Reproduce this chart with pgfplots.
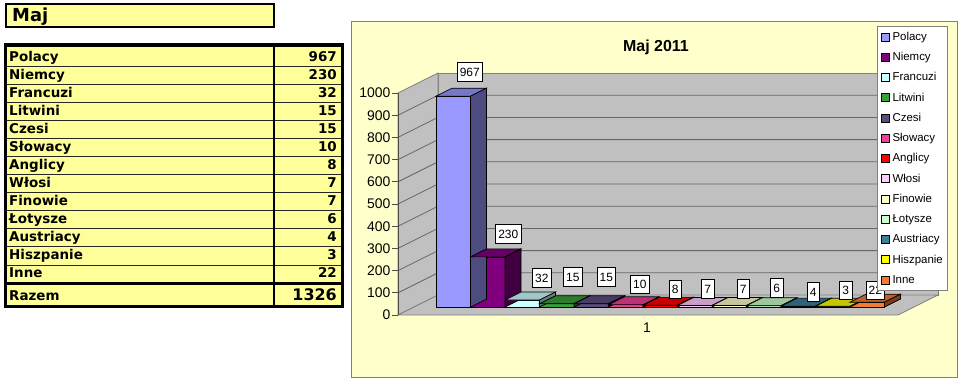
\documentclass[border=0pt]{standalone}
\usepackage{pgfplots}
\pgfplotsset{compat=1.18}
\usepackage{fontspec}
\setmainfont{Liberation Sans}
\newfontfamily\tabfont{DejaVu Sans}
\definecolor{chartbg}{HTML}{FFFFCC}
\definecolor{wall}{HTML}{C0C0C0}
\definecolor{gridc}{HTML}{808080}
\definecolor{tabyel}{HTML}{FFFF99}
\definecolor{cPol}{HTML}{9999FF}
\definecolor{cNie}{HTML}{800080}
\definecolor{cFra}{HTML}{CCFFFF}
\definecolor{cLit}{HTML}{3A9E3A}
\definecolor{cCze}{HTML}{5C4C80}
\definecolor{cSlo}{HTML}{F04196}
\definecolor{cAng}{HTML}{FF0000}
\definecolor{cWlo}{HTML}{FFCCFF}
\definecolor{cFin}{HTML}{FFFFCC}
\definecolor{cLot}{HTML}{CCFFCC}
\definecolor{cAus}{HTML}{3D7F99}
\definecolor{cHis}{HTML}{FFFF00}
\definecolor{cInn}{HTML}{F57A36}

\newcommand\barthreed[1]{%
  \pgfmathsetmacro\hh{-\yval*0.218}%
  \pgfmathsetmacro\hb{8-\yval*0.218}%
  \pgfsetfillcolor{#1!78!black}%
  \pgfpathmoveto{\pgfqpoint{-17.25bp}{0bp}}%
  \pgfpathlineto{\pgfqpoint{17.25bp}{0bp}}%
  \pgfpathlineto{\pgfqpoint{33.25bp}{8bp}}%
  \pgfpathlineto{\pgfqpoint{-1.25bp}{8bp}}%
  \pgfpathclose
  \pgfusepathqfillstroke
  \pgfsetfillcolor{#1!50!black}%
  \pgfpathmoveto{\pgfqpoint{17.25bp}{0bp}}%
  \pgfpathlineto{\pgfqpoint{33.25bp}{8bp}}%
  \pgfpathlineto{\pgfqpoint{33.25bp}{\hb bp}}%
  \pgfpathlineto{\pgfqpoint{17.25bp}{\hh bp}}%
  \pgfpathclose
  \pgfusepathqfillstroke
}
\pgfdeclareplotmark{b3dcPol}{\barthreed{cPol}}
\pgfdeclareplotmark{b3dcNie}{\barthreed{cNie}}
\pgfdeclareplotmark{b3dcFra}{\barthreed{cFra}}
\pgfdeclareplotmark{b3dcLit}{\barthreed{cLit}}
\pgfdeclareplotmark{b3dcCze}{\barthreed{cCze}}
\pgfdeclareplotmark{b3dcSlo}{\barthreed{cSlo}}
\pgfdeclareplotmark{b3dcAng}{\barthreed{cAng}}
\pgfdeclareplotmark{b3dcWlo}{\barthreed{cWlo}}
\pgfdeclareplotmark{b3dcFin}{\barthreed{cFin}}
\pgfdeclareplotmark{b3dcLot}{\barthreed{cLot}}
\pgfdeclareplotmark{b3dcAus}{\barthreed{cAus}}
\pgfdeclareplotmark{b3dcHis}{\barthreed{cHis}}
\pgfdeclareplotmark{b3dcInn}{\barthreed{cInn}}

\tikzset{lbl/.style={anchor=center, draw=black, line width=0.6bp, fill=white,
  inner xsep=2.8bp, inner ysep=5bp, text height=8.8bp, text depth=0bp,
  font=\fontsize{12}{12}\selectfont}}
\pgfplotsset{mybar/.style={ybar, bar width=34.5bp, bar shift=0pt, draw=black,
  line width=0.7bp, fill=#1, mark=b3d#1,
  visualization depends on=rawy \as \yval,
  nodes near coords={\pgfmathprintnumber[assume math mode=true]{\pgfplotspointmeta}},
  every node near coord/.append style={lbl},
  legend image code/.code={\draw[fill=#1,draw=black,line width=0.6bp] (0bp,-4bp) rectangle (8bp,4bp);}}}

\begin{document}
\begin{tikzpicture}[x=1bp,y=1bp]
\useasboundingbox (0,0) rectangle (960,380);
\fill[white] (0,0) rectangle (960,380);

% ---- left table ----
\begin{scope}[font=\tabfont\bfseries\fontsize{13.5}{14}\selectfont]
\draw[line width=2.5bp, fill=tabyel] (6,376) rectangle (274,353);
\node[anchor=base west, inner sep=0pt, font=\tabfont\bfseries\fontsize{18}{18}\selectfont] at (12,358.5) {Maj};
\fill[tabyel] (5,335) rectangle (342,74);
\foreach \k in {1,...,12} {\draw[line width=0.9bp, black!85] (5,{332-18.08*\k}) -- (342,{332-18.08*\k});}
\draw[line width=3bp] (5,97) -- (342,97);
\draw[line width=1.2bp] (274,335) -- (274,74);
\draw[line width=3bp] (5,335) rectangle (342,74);
\foreach \n/\v [count=\k from 0] in {Polacy/967,Niemcy/230,Francuzi/32,Litwini/15,Czesi/15,Słowacy/10,Anglicy/8,Włosi/7,Finowie/7,Łotysze/6,Austriacy/4,Hiszpanie/3,Inne/22} {
  \node[anchor=base west, inner sep=0pt] at (9,{319-18.08*\k}) {\n};
  \node[anchor=base east, inner sep=0pt] at (337,{319-18.08*\k}) {\v};
}
\node[anchor=base west, inner sep=0pt] at (9,80) {Razem};
\node[anchor=base east, inner sep=0pt, font=\tabfont\bfseries\fontsize{16}{16}\selectfont] at (337,80) {1326};
\end{scope}

% ---- chart area ----
\draw[gridc, line width=1bp, fill=chartbg] (351,358) rectangle (957,3);
\node[font=\bfseries\fontsize{16}{16}\selectfont] at (656,333) {Maj 2011};
% walls and floor
\draw[gridc, line width=0.8bp, fill=wall] (438,85) rectangle (938,307);
\draw[gridc, line width=0.8bp, fill=wall] (398,65) -- (438,85) -- (438,307) -- (398,287) -- cycle;
\draw[gridc, line width=0.8bp, fill=wall] (398,65) -- (438,85) -- (938,85) -- (898,65) -- cycle;
\foreach \k in {1,...,9} {
  \draw[gridc!80!black, line width=0.8bp] (398,{65+22.2*\k}) -- (438,{85+22.2*\k}) -- (938,{85+22.2*\k});
}

% ---- y axis (front edge) ----
\begin{axis}[at={(398bp,65bp)}, anchor=south west, x=1bp, y=0.222bp,
  xmin=0, xmax=1, ymin=0, ymax=1000,
  axis x line=none, axis y line*=left,
  axis line style={gridc!60!black, line width=0.8bp},
  ytick distance=100, tick align=outside, major tick length=6bp,
  tick style={gridc!60!black, line width=0.8bp},
  /pgf/number format/assume math mode=true, /pgf/number format/1000 sep={},
  yticklabel style={font=\fontsize{14}{14}\selectfont, inner sep=1.5bp}]
\end{axis}

% ---- bars ----
\begin{axis}[at={(436bp,73bp)}, anchor=south west, x=34.5bp, y=0.218bp,
  xmin=0.5, xmax=13.5, ymin=0, ymax=1000, clip=false,
  axis line style={draw=none}, major tick length=0pt, ytick=\empty,
  xtick={6.616}, xticklabels={1},
  xticklabel style={font=\fontsize{14}{14}\selectfont, yshift=-12bp},
  /pgf/number format/assume math mode=true,
  legend style={at={(axis description cs:0.9833,1.2890)}, anchor=north west,
    draw=gridc, line width=0.8bp, fill=white, inner xsep=4bp, inner ysep=4bp,
    font=\fontsize{11.5}{12}\selectfont,
    row sep=7.25bp, column sep=1.5bp, nodes={inner sep=1bp, text height=9bp, text depth=2bp}},
  legend cell align=left]
\addplot[mybar=cPol, every node near coord/.append style={xshift=16.5bp, yshift=24bp}] coordinates {(1,967)};
\addplot[mybar=cNie, every node near coord/.append style={xshift=20.5bp, yshift=23bp}] coordinates {(2,230)};
\addplot[mybar=cFra, every node near coord/.append style={xshift=19.5bp, yshift=22bp}] coordinates {(3,32)};
\addplot[mybar=cLit, every node near coord/.append style={xshift=16bp, yshift=27bp}] coordinates {(4,15)};
\addplot[mybar=cCze, every node near coord/.append style={xshift=15bp, yshift=27bp}] coordinates {(5,15)};
\addplot[mybar=cSlo, every node near coord/.append style={xshift=14bp, yshift=20.5bp}] coordinates {(6,10)};
\addplot[mybar=cAng, every node near coord/.append style={xshift=15bp, yshift=16bp}] coordinates {(7,8)};
\addplot[mybar=cWlo, every node near coord/.append style={xshift=13bp, yshift=16.5bp}] coordinates {(8,7)};
\addplot[mybar=cFin, every node near coord/.append style={xshift=14bp, yshift=16.5bp}] coordinates {(9,7)};
\addplot[mybar=cLot, every node near coord/.append style={xshift=13bp, yshift=17.5bp}] coordinates {(10,6)};
\addplot[mybar=cAus, every node near coord/.append style={xshift=15bp, yshift=14.5bp}] coordinates {(11,4)};
\addplot[mybar=cHis, every node near coord/.append style={xshift=13bp, yshift=16bp}] coordinates {(12,3)};
\addplot[mybar=cInn, every node near coord/.append style={xshift=8bp, yshift=12bp}] coordinates {(13,22)};
\legend{Polacy,Niemcy,Francuzi,Litwini,Czesi,Słowacy,Anglicy,Włosi,Finowie,Łotysze,Austriacy,Hiszpanie,Inne}
\end{axis}
\end{tikzpicture}
\end{document}
